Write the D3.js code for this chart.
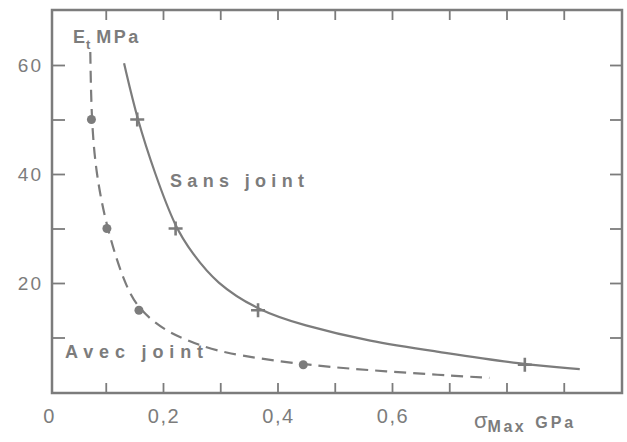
<!DOCTYPE html>
<html><head><meta charset="utf-8">
<script src="https://cdn.jsdelivr.net/npm/d3@7"></script>
<style>
html,body{margin:0;padding:0;background:#fff;}
svg text{font-family:"Liberation Sans",Arial,sans-serif;fill:#7c7c7c;}
</style></head>
<body><svg id="c" width="627" height="442"></svg>
<script>
// Data
const sansCurve = [[0.132,60.3],[0.155,50],[0.186,40],[0.222,30],[0.251,25.5],[0.292,20],[0.366,15],[0.442,12.3],[0.564,9.2],[0.674,7.5],[0.83,5],[0.928,4.2]];
const sansPoints = [[0.155,50],[0.222,30],[0.366,15],[0.832,5]];
const avecCurve = [[0.073,62.4],[0.075,50],[0.083,40],[0.102,30],[0.132,20],[0.158,15],[0.205,11.2],[0.238,9.7],[0.296,7.2],[0.445,5],[0.559,4.0],[0.687,3.1],[0.77,2.6]];
const avecPoints = [[0.075,50],[0.102,30],[0.158,15],[0.445,5]];
const xTicks = [0.1,0.2,0.3,0.4,0.5,0.6,0.7,0.8,0.9];
const xLabels = [[0,"0"],[0.2,"0,2"],[0.4,"0,4"],[0.6,"0,6"]];
const yTicks = [10,20,30,40,50,60];
const yLabels = [20,40,60];

const col = "#7c7c7c";
const svg = d3.select("#c");
const x = d3.scaleLinear().domain([0,1]).range([48.5,621]);
const y = d3.scaleLinear().domain([0,70]).range([392,10.5]);

const L = 52, R = 622, T = 10, B = 393;

// frame
svg.append("rect").attr("x",L).attr("y",T).attr("width",R-L).attr("height",B-T)
  .attr("fill","none").attr("stroke",col).attr("stroke-width",2.5);

function styleAxis(g){
  g.select(".domain").remove();
  g.selectAll(".tick line").attr("stroke",col).attr("stroke-width",1.8);
}
// tick marks
svg.append("g").attr("transform",`translate(0,${B})`)
  .call(d3.axisBottom(x).tickValues(xTicks).tickSize(-10).tickFormat("")).call(styleAxis);
svg.append("g").attr("transform",`translate(0,${T})`)
  .call(d3.axisTop(x).tickValues(xTicks).tickSize(-10).tickFormat("")).call(styleAxis);
svg.append("g").attr("transform",`translate(${L},0)`)
  .call(d3.axisLeft(y).tickValues(yTicks).tickSize(-13).tickFormat("")).call(styleAxis);
svg.append("g").attr("transform",`translate(${R},0)`)
  .call(d3.axisRight(y).tickValues(yTicks).tickSize(-12).tickFormat("")).call(styleAxis);

// tick labels
svg.append("g").selectAll("text").data(xLabels).join("text")
  .attr("x",d=>x(d[0])+1).attr("y",423).attr("text-anchor","middle")
  .attr("font-size",20).attr("letter-spacing",1.5).text(d=>d[1]);
svg.append("g").selectAll("text").data(yLabels).join("text")
  .attr("x",43).attr("y",d=>y(d)+7).attr("text-anchor","end")
  .attr("font-size",19).attr("letter-spacing",2).text(d=>d);

// curves
const line = d3.line().x(d=>x(d[0])).y(d=>y(d[1])).curve(d3.curveBasis);
svg.append("path").datum(sansCurve).attr("d",line).attr("fill","none")
  .attr("stroke",col).attr("stroke-width",2.2);
svg.append("path").datum(avecCurve).attr("d",line).attr("fill","none")
  .attr("stroke",col).attr("stroke-width",2.2).attr("stroke-dasharray","12,7");

// markers
svg.append("g").selectAll("path").data(sansPoints).join("path")
  .attr("d",d=>{const cx=x(d[0]),cy=y(d[1]);return `M${cx-7},${cy}H${cx+7}M${cx},${cy-7}V${cy+7}`;})
  .attr("stroke",col).attr("stroke-width",2.6);
svg.append("g").selectAll("circle").data(avecPoints).join("circle")
  .attr("cx",d=>x(d[0])).attr("cy",d=>y(d[1])).attr("r",4.5).attr("fill",col);

// annotations
svg.append("text").attr("x",170).attr("y",187).attr("font-size",18).attr("font-weight","bold")
  .attr("textLength",134).attr("lengthAdjust","spacing").text("Sans joint");
svg.append("text").attr("x",65).attr("y",358).attr("font-size",18).attr("font-weight","bold")
  .attr("textLength",138).attr("lengthAdjust","spacing").text("Avec joint");

// axis titles
const yt = svg.append("text").attr("x",73).attr("y",43).attr("font-size",18).attr("font-weight","bold");
yt.append("tspan").text("E");
yt.append("tspan").attr("font-size",13).attr("dy",6).attr("dx",1).text("t");
yt.append("tspan").attr("dy",-6).attr("dx",6).attr("letter-spacing",2.5).text("MPa");

const xt = svg.append("text").attr("x",474).attr("y",428).attr("font-size",22);
xt.append("tspan").text("σ");
xt.append("tspan").attr("font-size",16).attr("font-weight","bold").attr("dy",4).attr("letter-spacing",2.5).text("Max");
xt.append("tspan").attr("font-size",16).attr("font-weight","bold").attr("dy",-4).attr("dx",9).attr("letter-spacing",3).text("GPa");
</script></body></html>
